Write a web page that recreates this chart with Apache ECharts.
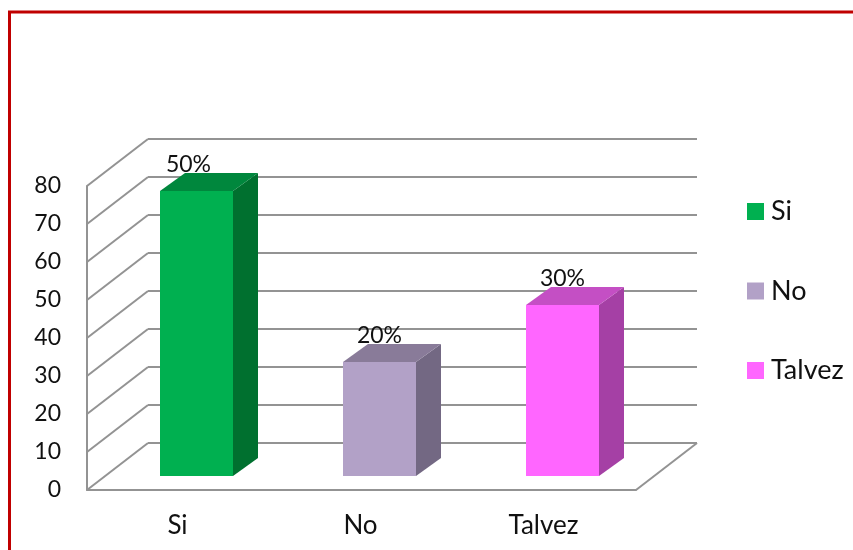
<!DOCTYPE html>
<html>
<head>
<meta charset="utf-8">
<style>html,body{margin:0;padding:0;background:#fff}#chart{width:853px;height:550px}</style>
<script src="https://cdn.jsdelivr.net/npm/echarts@6/dist/echarts.min.js"></script>
</head>
<body>
<div id="chart"></div>
<script>
var categories = ['Si', 'No', 'Talvez'];
var values = [75, 30, 45];
var percents = ['50%', '20%', '30%'];
var yTicks = [0, 10, 20, 30, 40, 50, 60, 70, 80];

var faceColors = ['#00B050', '#B2A1C7', '#FF66FF'];
var topColors = ['#00873D', '#897B99', '#C44FC4'];
var sideColors = ['#00702F', '#736883', '#A540A5'];

// pseudo 3d offsets, in pixels
var wallDepth = [61, -47];
var barShift = [18, -14];
var barDepth = [25, -18];
var barWidth = 73;
var labelNudge = [-8, 0, 0]; // first label sits left of its bar in the original
var lineColor = '#939393';

var myChart = echarts.init(document.getElementById('chart'));

function poly(points, color) {
    return {type: 'polygon', shape: {points: points}, style: {fill: color}};
}

function renderBar(params, api) {
    var i = api.value(0);
    var top = api.coord([i, api.value(1)]);
    var bottom = api.coord([i, 0]);
    var x0 = top[0] + barShift[0] - barWidth / 2;
    var x1 = x0 + barWidth;
    var yTop = top[1] + barShift[1];
    var yBottom = bottom[1] + barShift[1];
    var dx = barDepth[0], dy = barDepth[1];
    return {
        type: 'group',
        children: [
            poly([[x1, yTop], [x1 + dx, yTop + dy], [x1 + dx, yBottom + dy], [x1, yBottom]], sideColors[i]),
            poly([[x0, yTop], [x0 + dx, yTop + dy], [x1 + dx, yTop + dy], [x1, yTop]], topColors[i]),
            poly([[x0, yTop], [x1, yTop], [x1, yBottom], [x0, yBottom]], faceColors[i]),
            {
                type: 'text',
                style: {
                    text: percents[i],
                    x: (x0 + x1) / 2 + labelNudge[i],
                    y: yTop - 26,
                    align: 'center',
                    verticalAlign: 'middle',
                    font: '23px Lato',
                    fill: '#111'
                }
            }
        ]
    };
}

// back wall lines and the diagonals that join them to the value axis
function renderWall(params, api) {
    var v = api.value(0);
    var rect = params.coordSys;
    var fy = api.coord([0, v])[1];
    var fx = rect.x;
    var bx = fx + wallDepth[0];
    var by = fy + wallDepth[1];
    var lineStyle = {stroke: lineColor, lineWidth: 2};
    var children = [
        {type: 'line', shape: {x1: fx, y1: fy, x2: bx, y2: by}, style: lineStyle},
        {type: 'line', shape: {x1: bx, y1: by, x2: rect.x + rect.width + wallDepth[0], y2: by}, style: lineStyle}
    ];
    if (v === 0) {
        children.push({
            type: 'line',
            shape: {x1: rect.x + rect.width, y1: fy, x2: rect.x + rect.width + wallDepth[0], y2: by},
            style: lineStyle
        });
    }
    return {type: 'group', children: children};
}

var barSeries = categories.map(function (name, i) {
    return {
        name: name,
        type: 'custom',
        renderItem: renderBar,
        itemStyle: {color: faceColors[i]},
        encode: {x: 0, y: 1},
        clip: false,
        z: 5,
        data: [[i, values[i]]]
    };
});

var option = {
    animation: false,
    backgroundColor: '#fff',
    textStyle: {fontFamily: 'Lato'},
    graphic: [{
        type: 'polyline',
        silent: true,
        shape: {points: [[9.5, 550], [9.5, 12], [853, 12]]},
        style: {fill: null, stroke: '#C00000', lineWidth: 3}
    }],
    legend: {
        orient: 'vertical',
        left: 742,
        top: 193,
        itemWidth: 17,
        itemHeight: 17,
        itemGap: 52.5,
        icon: 'rect',
        textStyle: {fontSize: 27, color: '#111', padding: [0, 0, 0, 2]},
        data: categories
    },
    grid: {left: 87, right: 217, top: 186, bottom: 60},
    xAxis: {
        type: 'category',
        data: categories,
        axisLine: {lineStyle: {color: lineColor, width: 2}},
        axisTick: {show: false},
        axisLabel: {fontSize: 26, color: '#111', margin: 23, padding: [0, 2, 0, 0]}
    },
    yAxis: {
        type: 'value',
        min: 0,
        max: 80,
        interval: 10,
        axisLine: {show: true, lineStyle: {color: lineColor, width: 2}},
        axisTick: {show: false},
        splitLine: {show: false},
        axisLabel: {fontSize: 23, color: '#111', margin: 26, padding: [3, 0, 0, 0]}
    },
    series: [{
        name: 'pared',
        type: 'custom',
        renderItem: renderWall,
        silent: true,
        encode: {y: 0},
        clip: false,
        z: 1,
        data: yTicks.map(function (v) { return [v]; })
    }].concat(barSeries)
};
myChart.setOption(option);
</script>
</body>
</html>
